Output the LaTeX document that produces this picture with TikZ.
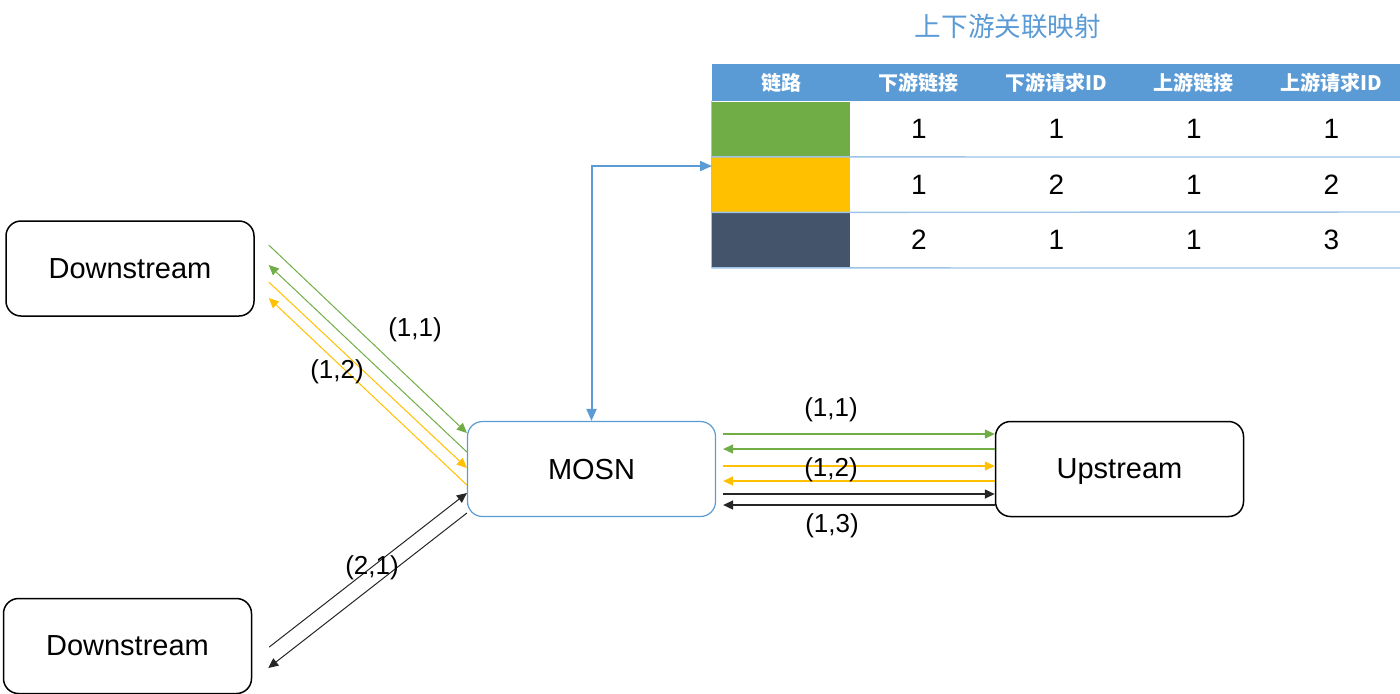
\documentclass[tikz,border=0pt]{standalone}
\usepackage{fontspec}
\setmainfont{Liberation Sans}
\newfontfamily\cjk{Noto Sans CJK SC}
\usetikzlibrary{arrows.meta}
\definecolor{cgreen}{HTML}{70AD47}
\definecolor{cyellow}{HTML}{FFC000}
\definecolor{cdark}{HTML}{44546A}
\definecolor{cblue}{HTML}{5B9BD5}
\definecolor{cline}{HTML}{9DC3E6}
\begin{document}
\begin{tikzpicture}[x=0.5pt,y=-0.5pt,
  box/.style={draw=black,line width=0.75pt,rounded corners=7.5pt,minimum width=124pt,minimum height=47.5pt,inner sep=0pt,text depth=0pt,font=\fontsize{14.5}{17}\selectfont},
  mbox/.style={box,draw=cblue,line width=0.6pt},
  lbl/.style={font=\fontsize{13}{15}\selectfont,inner sep=0pt},
  tip/.style={-{Triangle[length=5pt,width=4.5pt]}},
  gline/.style={tip,draw=cgreen,line width=0.5pt},
  yline/.style={tip,draw=cyellow,line width=0.5pt},
  kline/.style={tip,draw=black!85,line width=0.5pt},
  hgline/.style={gline,line width=0.65pt},
  hyline/.style={yline,line width=0.75pt},
  hkline/.style={kline,line width=0.75pt},
  hdr/.style={fill=cblue,minimum width=69pt,minimum height=18.5pt,inner sep=0pt,text=white,font=\cjk\bfseries\fontsize{10}{12}\selectfont},
  swatch/.style={minimum width=69pt,minimum height=27.5pt,inner sep=0pt},
  num/.style={inner sep=0pt,font=\fontsize{14}{16}\selectfont},
]
\useasboundingbox (0,0) rectangle (1400,693);

% title
\node[text=cblue,font=\cjk\fontsize{13.3}{15}\selectfont,inner sep=0pt] (title) at (1008,26) {上下游关联映射};

% table header
\node[hdr] (h1) at (781,82.5) {链路};
\node[hdr] (h2) at (918.8,82.5) {下游链接};
\node[hdr] (h3) at (1056.3,82.5) {下游请求ID};
\node[hdr] (h4) at (1193.8,82.5) {上游链接};
\node[hdr] (h5) at (1331.3,82.5) {上游请求ID};

% swatches
\node[swatch,fill=cgreen] (s1) at (781,129) {};
\node[swatch,fill=cyellow] (s2) at (781,184.5) {};
\node[swatch,fill=cdark] (s3) at (781,240) {};

% numbers
\node[num] (r1c2) at (918.8,129) {1};
\node[num] (r1c3) at (1056.3,129) {1};
\node[num] (r1c4) at (1193.8,129) {1};
\node[num] (r1c5) at (1331.3,129) {1};
\node[num] (r2c2) at (918.8,184.5) {1};
\node[num] (r2c3) at (1056.3,184.5) {2};
\node[num] (r2c4) at (1193.8,184.5) {1};
\node[num] (r2c5) at (1331.3,184.5) {2};
\node[num] (r3c2) at (918.8,240) {2};
\node[num] (r3c3) at (1056.3,240) {1};
\node[num] (r3c4) at (1193.8,240) {1};
\node[num] (r3c5) at (1331.3,240) {3};

% table rules
\draw[cline,line width=0.7pt] (s1.south west) -- (1400,157);
\draw[cline,line width=0.7pt] (s2.south west) -- (1400,212);
\draw[cline,line width=0.7pt] (s3.south west) -- (1400,268);
\draw[cline,line width=0.7pt] (h1.south west) -- (s3.south west);

% boxes
\node[box] (d1) at (130,268.5) {Downstream};
\node[box] (d2) at (127.5,646) {Downstream};
\node[mbox] (mosn) at (591.5,469) {MOSN};
\node[box] (up) at (1119.5,469) {Upstream};

% link to table
\coordinate (tin) at (712,166);
\draw[cblue,line width=1pt,{Triangle[length=6pt,width=5pt]}-{Triangle[length=6pt,width=5pt]}] (mosn.north) |- (tin);

% upper-left diagonals
\draw[gline] ([xshift=7pt]d1.east |- 0,245) -- (mosn.west |- 0,433);
\draw[gline] (mosn.west |- 0,452) -- ([xshift=7pt]d1.east |- 0,265);
\draw[yline] ([xshift=7pt]d1.east |- 0,282) -- (mosn.west |- 0,468);
\draw[yline] (mosn.west |- 0,485) -- ([xshift=7pt]d1.east |- 0,298);
\node[lbl] (l11a) at (415,330) {(1,1)};
\node[lbl] (l12a) at (337,372) {(1,2)};

% lower-left diagonals
\draw[kline] ([xshift=8.5pt]d2.east |- 0,647) -- (mosn.west |- 0,493);
\draw[kline] (mosn.west |- 0,513) -- ([xshift=8pt]d2.east |- 0,668);
\node[lbl] (l21) at (372,568) {(2,1)};

% horizontal
\draw[hgline] ([xshift=3.5pt]mosn.east |- 0,434) -- (up.west |- 0,434);
\draw[hgline] (up.west |- 0,449) -- ([xshift=3.5pt]mosn.east |- 0,449);
\draw[hyline] ([xshift=3.5pt]mosn.east |- 0,466) -- (up.west |- 0,466);
\draw[hyline] (up.west |- 0,481) -- ([xshift=3.5pt]mosn.east |- 0,481);
\draw[hkline] ([xshift=3.5pt]mosn.east |- 0,494) -- (up.west |- 0,494);
\draw[hkline] (up.west |- 0,505) -- ([xshift=3.5pt]mosn.east |- 0,505);
\node[lbl] (l11b) at (831,410) {(1,1)};
\node[lbl] (l12b) at (831,470) {(1,2)};
\node[lbl] (l13b) at (832,526) {(1,3)};
\end{tikzpicture}
\end{document}
